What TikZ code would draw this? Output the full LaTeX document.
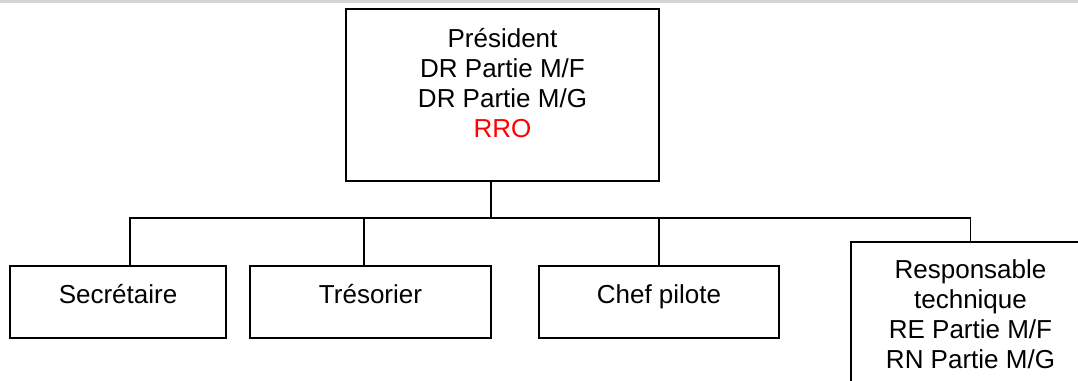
\documentclass[tikz,border=0pt]{standalone}
\usepackage{fontspec}
\setmainfont{Liberation Sans}
\usetikzlibrary{positioning}

\begin{document}
\begin{tikzpicture}[
  x=0.75pt, y=-0.75pt,
  every node/.style={font=\fontsize{19.5pt}{22.35pt}\selectfont},
  orgbox/.style={draw, line width=1.3pt, inner sep=0pt, align=center},
  postbox/.style={orgbox, minimum width=#1, text height=27.75pt, text depth=26.25pt},
  wire/.style={line width=1.3pt}
]

\useasboundingbox (0,0) rectangle (1078,380);
\clip (0,0) rectangle (1078,380);
\fill[white] (0,0) rectangle (1078,380);
\fill[black!17] (0,0) rectangle (1078,2.5);

% bureau
\node[orgbox, minimum width=234.75pt, text height=96.25pt, text depth=32.75pt] (pres)
  at (502.5,95)
  {Président\\DR Partie M/F\\DR Partie M/G\\\textcolor{red}{RRO}};

% postes
\node[postbox=162pt] (sec) at (118,302) {Secrétaire};
\node[postbox=180.75pt] (tres) at (370.5,302) {Trésorier};
\node[postbox=180pt] (chef) at (659,302) {Chef pilote};
\node[orgbox, minimum width=179.25pt, text height=94.5pt, text depth=24pt] (resp)
  at (970.5,321)
  {Responsable\\technique\\RE Partie M/F\\RN Partie M/G};

% liaisons
\coordinate (bus) at (491,218);
\draw[wire] (pres.south -| bus) -- (bus);
\draw[wire] ([xshift=9pt]sec.north) |- (bus) -| (resp.north);
\draw[wire] ([xshift=-4.9pt]tres.north) -- ([xshift=-4.9pt]tres.north |- bus);
\draw[wire] (chef.north) -- (chef.north |- bus);

\end{tikzpicture}
\end{document}
